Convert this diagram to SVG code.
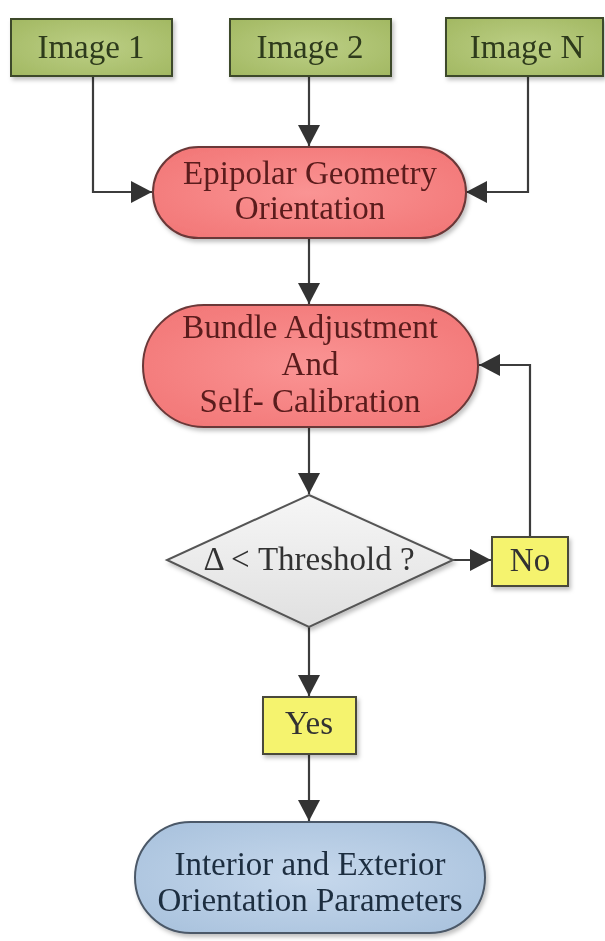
<svg xmlns="http://www.w3.org/2000/svg" width="605" height="941" viewBox="0 0 605 941">
<defs>
<style>
text{font-family:"Liberation Serif","Times New Roman",serif;text-anchor:middle;font-size:33px}
.line{fill:none;stroke:#3c3c3c;stroke-width:2.2}
.green{fill:url(#gGreen);stroke:#3e4a2a;stroke-width:2}
.red{fill:url(#gRed);stroke:#6a3838;stroke-width:2}
.diam{fill:url(#gGray);stroke:#555;stroke-width:2}
.yel{fill:#f5f36e;stroke:#4a4a3a;stroke-width:2}
.blue{fill:url(#gBlue);stroke:#4c5968;stroke-width:2}
.tg{fill:#2e3a1c}
.tr{fill:#5a1c1c}
.tk{fill:#333}
.tb{fill:#1e2d40}
</style>
<radialGradient id="gGreen" cx="50%" cy="50%" r="70%"><stop offset="0" stop-color="#bccf85"/><stop offset="1" stop-color="#a2b862"/></radialGradient>
<radialGradient id="gRed" cx="50%" cy="50%" r="65%"><stop offset="0" stop-color="#fa9494"/><stop offset="1" stop-color="#f27676"/></radialGradient>
<linearGradient id="gGray" x1="0" y1="0" x2="0" y2="1"><stop offset="0" stop-color="#f6f6f6"/><stop offset="1" stop-color="#e0e0e0"/></linearGradient>
<radialGradient id="gBlue" cx="50%" cy="50%" r="65%"><stop offset="0" stop-color="#c6d8ec"/><stop offset="1" stop-color="#a9c2dd"/></radialGradient>
<filter id="sh" x="-10%" y="-10%" width="130%" height="130%"><feDropShadow dx="2" dy="3" stdDeviation="2" flood-color="#000" flood-opacity="0.25"/></filter>
<marker id="arr" markerUnits="userSpaceOnUse" markerWidth="22" markerHeight="22" refX="21" refY="11" orient="auto"><path d="M0,0 L21,11 L0,22 Z" fill="#333"/></marker>
</defs>
<rect width="605" height="941" fill="#fff"/>
<g id="connectors">
<path class="line" d="M93,76 V192 H152" marker-end="url(#arr)"/>
<path class="line" d="M309,76 V146" marker-end="url(#arr)"/>
<path class="line" d="M528,76 V192 H466" marker-end="url(#arr)"/>
<path class="line" d="M309,238 V304" marker-end="url(#arr)"/>
<path class="line" d="M309,427 V494" marker-end="url(#arr)"/>
<path class="line" d="M453,560 H491" marker-end="url(#arr)"/>
<path class="line" d="M530,537 V365 H479" marker-end="url(#arr)"/>
<path class="line" d="M309,627 V696" marker-end="url(#arr)"/>
<path class="line" d="M309,754 V821" marker-end="url(#arr)"/>
</g>
<g id="image1" filter="url(#sh)"><rect class="green" x="11" y="19" width="161" height="57"/><text class="tg" x="91" y="58">Image 1</text></g>
<g id="image2" filter="url(#sh)"><rect class="green" x="230" y="19" width="161" height="57"/><text class="tg" x="310" y="58">Image 2</text></g>
<g id="imageN" filter="url(#sh)"><rect class="green" x="446" y="18" width="157" height="58"/><text class="tg" x="527" y="58">Image N</text></g>
<g id="epipolar" filter="url(#sh)"><rect class="red" x="153" y="147" width="313" height="91" rx="45.5"/><text class="tr" x="310" y="184">Epipolar Geometry</text><text class="tr" x="310" y="219">Orientation</text></g>
<g id="bundle" filter="url(#sh)"><rect class="red" x="143" y="305" width="335" height="122" rx="61"/><text class="tr" x="310" y="338">Bundle Adjustment</text><text class="tr" x="310" y="375">And</text><text class="tr" x="310" y="412">Self- Calibration</text></g>
<g id="decision" filter="url(#sh)"><polygon class="diam" points="309,495 453,560 309,627 167,560"/><text class="tk" x="309" y="570" font-size="30">Δ &lt; Threshold ?</text></g>
<g id="no" filter="url(#sh)"><rect class="yel" x="492" y="537" width="76" height="49"/><text class="tk" x="530" y="571" font-size="30">No</text></g>
<g id="yes" filter="url(#sh)"><rect class="yel" x="263" y="697" width="93" height="57"/><text class="tk" x="309" y="734" font-size="31">Yes</text></g>
<g id="result" filter="url(#sh)"><rect class="blue" x="135" y="822" width="350" height="111" rx="55.5"/><text class="tb" x="310" y="875">Interior and Exterior</text><text class="tb" x="310" y="911">Orientation Parameters</text></g>
</svg>
